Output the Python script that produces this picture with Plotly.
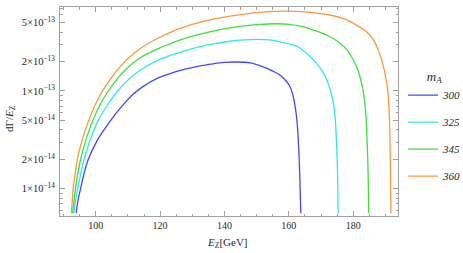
import plotly.graph_objects as go

# m_A = 300
e_300 = [93.9, 94.5, 95.3, 96.3, 97.7, 100.5, 103.6, 106.3, 109.1, 111.7, 114.3, 119.4, 123.5, 127.7, 132.0, 136.5, 140.0, 143.5, 148.0, 152.0, 155.0, 157.2, 159.0, 160.3, 161.2, 162.0, 162.6, 163.2, 163.5, 163.7]
v_300 = [5.6e-15, 7.6e-15, 1.0e-14, 1.4e-14, 2.0e-14, 3.14e-14, 4.47e-14, 5.9e-14, 7.6e-14, 9.3e-14, 1.09e-13, 1.36e-13, 1.52e-13, 1.67e-13, 1.8e-13, 1.9e-13, 1.96e-13, 1.98e-13, 1.94e-13, 1.77e-13, 1.6e-13, 1.46e-13, 1.28e-13, 1.12e-13, 9.2e-14, 6.8e-14, 4.6e-14, 2.0e-14, 1.0e-14, 5.6e-15]
# m_A = 325
e_325 = [93.2, 93.7, 94.4, 95.3, 96.4, 98.5, 100.8, 103.9, 106.5, 109.1, 111.7, 114.3, 119.4, 123.0, 127.0, 131.5, 136.5, 141.7, 146.0, 150.0, 154.0, 157.2, 162.4, 165.5, 168.6, 170.5, 172.2, 173.5, 174.3, 175.0, 175.2, 175.3]
v_325 = [5.6e-15, 7.5e-15, 1.0e-14, 1.4e-14, 2.0e-14, 3.3e-14, 5.0e-14, 7.4e-14, 9.7e-14, 1.21e-13, 1.45e-13, 1.67e-13, 2.07e-13, 2.3e-13, 2.55e-13, 2.8e-13, 3.04e-13, 3.23e-13, 3.33e-13, 3.37e-13, 3.33e-13, 3.19e-13, 2.88e-13, 2.43e-13, 1.92e-13, 1.58e-13, 1.2e-13, 8.5e-14, 5.7e-14, 2.0e-14, 1.0e-14, 5.6e-15]
# m_A = 345
e_345 = [92.8, 93.2, 93.7, 94.4, 95.3, 97.0, 99.1, 101.5, 103.9, 106.5, 109.1, 111.7, 114.3, 119.4, 123.0, 127.0, 131.5, 136.5, 141.7, 146.9, 151.0, 155.5, 160.0, 164.0, 167.6, 172.0, 175.9, 178.2, 180.0, 181.5, 182.6, 183.4, 183.9, 184.5, 184.7, 184.8]
v_345 = [5.6e-15, 7.3e-15, 1.0e-14, 1.4e-14, 2.0e-14, 3.2e-14, 5.0e-14, 7.4e-14, 1.0e-13, 1.31e-13, 1.63e-13, 1.95e-13, 2.24e-13, 2.72e-13, 3.04e-13, 3.39e-13, 3.75e-13, 4.11e-13, 4.42e-13, 4.66e-13, 4.8e-13, 4.88e-13, 4.82e-13, 4.58e-13, 4.2e-13, 3.7e-13, 3.08e-13, 2.6e-13, 2.08e-13, 1.62e-13, 1.2e-13, 8.5e-14, 5.7e-14, 2.0e-14, 1.0e-14, 5.6e-15]
# m_A = 360
e_360 = [92.4, 92.7, 93.0, 93.6, 94.3, 95.6, 97.8, 99.8, 101.8, 103.9, 106.5, 109.1, 111.7, 114.3, 119.4, 124.6, 130.0, 136.5, 141.7, 146.9, 151.0, 155.5, 160.3, 164.0, 168.0, 172.7, 177.0, 181.0, 184.1, 186.2, 187.6, 188.8, 189.7, 190.4, 190.9, 191.2, 191.5, 191.6, 191.7]
v_360 = [5.6e-15, 7.3e-15, 1.0e-14, 1.4e-14, 2.0e-14, 3.0e-14, 5.0e-14, 7.2e-14, 9.6e-14, 1.23e-13, 1.61e-13, 2.01e-13, 2.4e-13, 2.79e-13, 3.49e-13, 4.18e-13, 4.8e-13, 5.43e-13, 5.85e-13, 6.17e-13, 6.37e-13, 6.52e-13, 6.56e-13, 6.5e-13, 6.3e-13, 6.0e-13, 5.5e-13, 4.73e-13, 4.05e-13, 3.38e-13, 2.7e-13, 2.08e-13, 1.6e-13, 1.2e-13, 8.5e-14, 5.7e-14, 2.0e-14, 1.0e-14, 5.6e-15]

labels = ["300", "325", "345", "360"]
colors = ["rgb(70,70,255)", "rgb(40,235,240)", "rgb(60,225,60)", "rgb(255,150,60)"]

x_major = [100, 120, 140, 160, 180]
y_major = [1e-14, 2e-14, 5e-14, 1e-13, 2e-13, 5e-13]
y_major_text = ["1×10<sup>−14</sup>", "2×10<sup>−14</sup>", "5×10<sup>−14</sup>",
                "1×10<sup>−13</sup>", "2×10<sup>−13</sup>", "5×10<sup>−13</sup>"]
y_minor = [6e-15, 7e-15, 8e-15, 9e-15, 3e-14, 4e-14, 6e-14, 7e-14, 8e-14, 9e-14,
           3e-13, 4e-13, 6e-13, 7e-13]

fig = go.Figure()
for e, v, lab, col in zip([e_300, e_325, e_345, e_360], [v_300, v_325, v_345, v_360], labels, colors):
    fig.add_trace(go.Scatter(x=e, y=v, mode="lines", name="<i>" + lab + "</i>",
                             legendgroup=lab,
                             line=dict(color=col, width=1.3, shape="spline", smoothing=0.8)))

frame = "rgb(160,160,160)"
txt = "rgb(40,40,40)"
fig.update_layout(
    width=463, height=253,
    margin=dict(l=60, r=65, t=7, b=37, autoexpand=False),
    paper_bgcolor="white", plot_bgcolor="white",
    font=dict(family="Liberation Serif", size=10, color=txt),
    showlegend=True,
    legend=dict(x=1.015, xanchor="left", y=0.729, yanchor="top",
                title=dict(text="<i>m<sub>A</sub></i>", side="top center", font=dict(size=13, color=txt)),
                font=dict(size=11, color=txt),
                tracegroupgap=8, bgcolor="rgba(0,0,0,0)"),
    xaxis=dict(range=[88.9, 193.9], showgrid=False, zeroline=False, automargin=False,
               showline=True, linecolor=frame, linewidth=1, mirror="allticks",
               ticks="inside", ticklen=5, tickcolor=frame,
               tickvals=x_major, tickfont=dict(size=10),
               minor=dict(ticks="inside", ticklen=2.5, tickcolor=frame, dtick=5, tick0=0, showgrid=False)),
    yaxis=dict(type="log", range=[-14.28, -12.14], showgrid=False, zeroline=False, automargin=False,
               showline=True, linecolor=frame, linewidth=1, mirror="allticks",
               ticks="inside", ticklen=5, tickcolor=frame, ticklabelstandoff=2,
               tickvals=y_major, ticktext=y_major_text, tickfont=dict(size=10.5),
               minor=dict(ticks="inside", ticklen=2.5, tickcolor=frame, tickvals=y_minor, showgrid=False)),
    annotations=[
        dict(text="<i>E</i><sub>Z</sub>[GeV]", xref="paper", yref="paper", x=0.497, y=-0.129,
             xanchor="center", yanchor="middle", showarrow=False, font=dict(size=11, color=txt)),
        dict(text="dΓ/<i>E</i><sub>Z</sub>", xref="paper", yref="paper", x=-0.148, y=0.469,
             xanchor="center", yanchor="middle", textangle=-90, showarrow=False,
             font=dict(size=11, color=txt)),
    ],
)

fig.write_html("out.html", config={"displayModeBar": False},
               post_script="document.body.style.margin='0';")
